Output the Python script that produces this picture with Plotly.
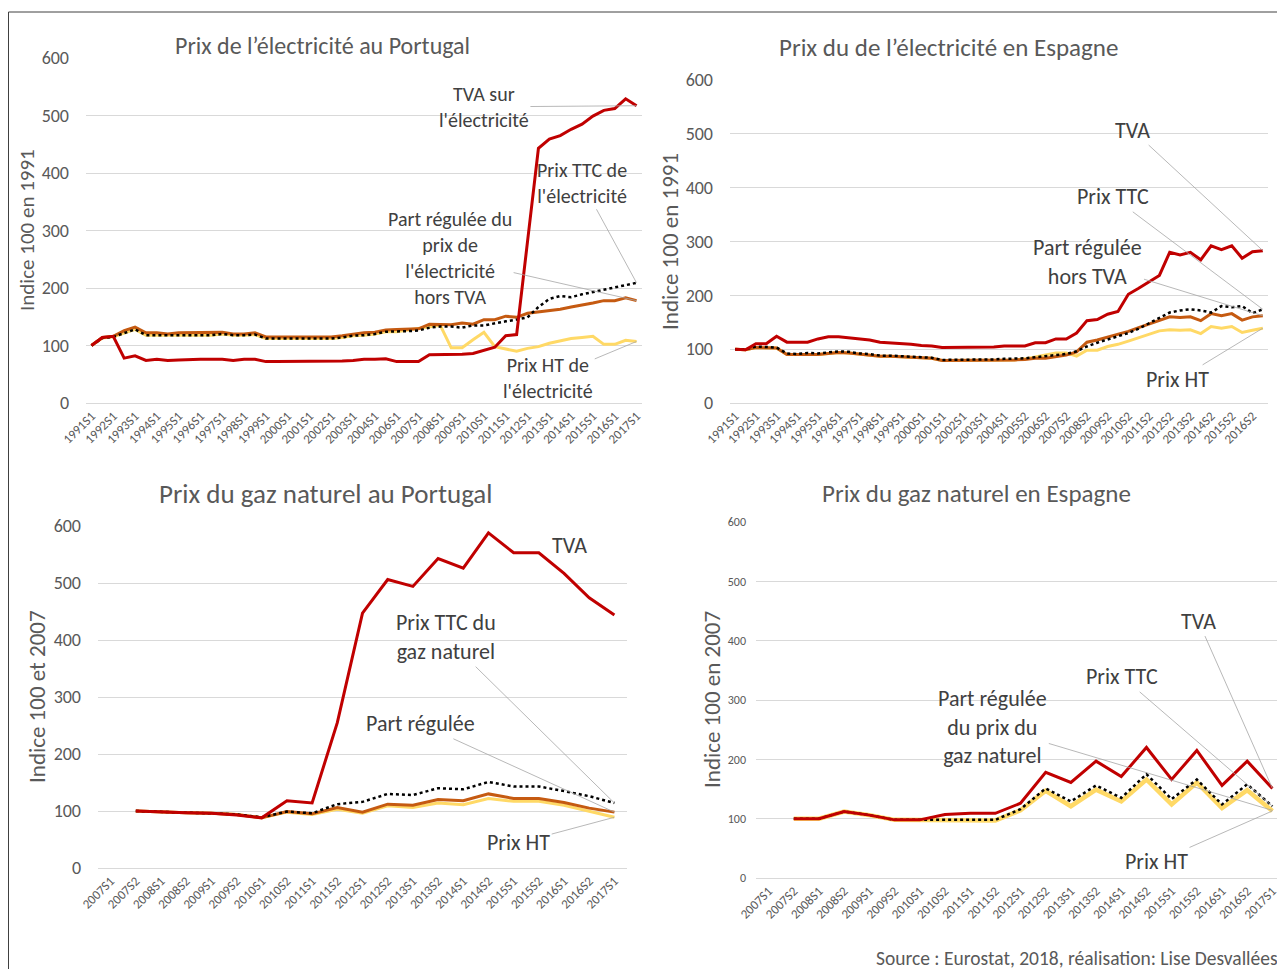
import plotly.graph_objects as go

OFF = 8  # page body margin
W, H = 1285 - OFF, 969 - OFF
FONT = "Carlito, Lato, sans-serif"
GRID = "#D9D9D9"
TXT = "#595959"
LBL = "#404040"
RED = "#C00000"
ORANGE = "#C55A11"
YELLOW = "#FFD966"
BLACK = "#000000"

# ---------------- Data ----------------
# Portugal electricity (semesters, 2005 missing)
pt_elec_cats = [
    "1991S1", "1991S2", "1992S1", "1992S2", "1993S1", "1993S2", "1994S1", "1994S2",
    "1995S1", "1995S2", "1996S1", "1996S2", "1997S1", "1997S2", "1998S1", "1998S2",
    "1999S1", "1999S2", "2000S1", "2000S2", "2001S1", "2001S2", "2002S1", "2002S2",
    "2003S1", "2003S2", "2004S1", "2004S2", "2006S1", "2006S2", "2007S1", "2007S2",
    "2008S1", "2008S2", "2009S1", "2009S2", "2010S1", "2010S2", "2011S1", "2011S2",
    "2012S1", "2012S2", "2013S1", "2013S2", "2014S1", "2014S2", "2015S1", "2015S2",
    "2016S1", "2016S2", "2017S1"]
pt_elec_tva = [100, 114, 116, 78, 82, 74, 76, 74, 75, 76, 76, 76, 76, 74, 76, 76, 72, 72, 72, 72,
               72, 72, 72, 73, 74, 76, 76, 77, 72, 72, 72, 84, 84, 84, 85, 86, 91, 97, 117, 119,
               281, 443, 459, 465, 476, 485, 499, 509, 512, 529, 517]
pt_elec_ttc = [100, 113, 115, 122, 128, 118, 118, 117, 118, 118, 118, 118, 120, 118, 118, 119, 112, 112, 112, 112,
               112, 112, 112, 114, 117, 118, 120, 124, 124, 125, 126, 131, 133, 133, 131, 135, 135, 139, 142, 145,
               149, 167, 181, 186, 184, 189, 193, 197, 201, 204, 209]
pt_elec_reg = [100, 114, 116, 126, 132, 122, 122, 120, 122, 122, 122, 122, 123, 120, 120, 122, 115, 115, 115, 115,
               115, 115, 115, 117, 120, 122, 123, 127, 128, 129, 129, 137, 137, 136, 139, 137, 145, 145, 151, 149,
               156, 158, 161, 163, 167, 170, 174, 178, 178, 183, 178]
pt_elec_ht = [100, 113, 115, 122, 128, 118, 118, 117, 118, 118, 118, 118, 120, 118, 118, 119, 112, 112, 112, 112,
              112, 112, 112, 114, 117, 118, 120, 124, 124, 127, 130, 133, 135, 96, 96, 110, 123, 98, 94, 90,
              95, 98, 104, 108, 112, 114, 116, 102, 102, 109, 107]

# Spain electricity (semesters, 2005S1 missing)
es_elec_cats = [
    "1991S1", "1991S2", "1992S1", "1992S2", "1993S1", "1993S2", "1994S1", "1994S2",
    "1995S1", "1995S2", "1996S1", "1996S2", "1997S1", "1997S2", "1998S1", "1998S2",
    "1999S1", "1999S2", "2000S1", "2000S2", "2001S1", "2001S2", "2002S1", "2002S2",
    "2003S1", "2003S2", "2004S1", "2004S2", "2005S2", "2006S1", "2006S2", "2007S1",
    "2007S2", "2008S1", "2008S2", "2009S1", "2009S2", "2010S1", "2010S2", "2011S1",
    "2011S2", "2012S1", "2012S2", "2013S1", "2013S2", "2014S1", "2014S2", "2015S1",
    "2015S2", "2016S1", "2016S2", "2017S1"]
es_elec_tva = [100, 99, 110, 110, 124, 113, 113, 113, 119, 123, 123, 121, 119, 117, 113, 112, 110, 109, 107, 106,
               103, 103, 103, 103, 104, 104, 106, 106, 106, 112, 112, 119, 119, 130, 153, 155, 165, 170, 202, 213,
               225, 237, 280, 275, 280, 266, 292, 285, 292, 269, 281, 283]
es_elec_ttc = [100, 100, 105, 104, 103, 92, 91, 93, 92, 94, 96, 95, 92, 91, 88, 88, 87, 85, 84, 84,
               80, 80, 80, 80, 81, 81, 82, 82, 83, 85, 87, 89, 91, 96, 105, 112, 118, 123, 130, 138,
               148, 158, 168, 172, 174, 172, 168, 180, 178, 180, 167, 174]
es_elec_reg = [100, 99, 103, 102, 102, 90, 90, 91, 90, 92, 94, 93, 91, 89, 87, 87, 86, 84, 83, 83,
               79, 79, 79, 79, 79, 79, 80, 80, 81, 83, 83, 86, 89, 95, 113, 117, 122, 127, 133, 140,
               147, 154, 160, 159, 160, 153, 166, 162, 166, 154, 160, 162]
es_elec_ht = [100, 99, 103, 102, 102, 90, 90, 91, 90, 92, 94, 93, 91, 89, 87, 87, 86, 84, 83, 83,
              79, 79, 79, 79, 79, 79, 80, 80, 82, 86, 90, 93, 93, 87, 98, 98, 105, 109, 115, 121,
              128, 134, 136, 135, 136, 129, 142, 139, 142, 131, 135, 139]

# Gas (semesters 2007S1 - 2017S1)
gas_cats = ["2007S1", "2007S2", "2008S1", "2008S2", "2009S1", "2009S2", "2010S1", "2010S2",
            "2011S1", "2011S2", "2012S1", "2012S2", "2013S1", "2013S2", "2014S1", "2014S2",
            "2015S1", "2015S2", "2016S1", "2016S2", "2017S1"]
pt_gas_tva = [None, 100, 98, 97, 96, 93, 88, 118, 114, 255, 447, 506, 494, 543, 526, 588, 553, 553, 517, 474, 444]
pt_gas_ttc = [None, 100, 98, 97, 96, 94, 89, 99, 96, 112, 116, 130, 128, 140, 138, 151, 143, 143, 135, 126, 114]
pt_gas_reg = [None, 100, 98, 97, 96, 94, 88, 99, 95, 106, 98, 112, 110, 120, 118, 130, 122, 122, 115, 105, 98]
pt_gas_ht = [None, 100, 98, 97, 96, 94, 88, 98, 94, 103, 96, 109, 106, 114, 111, 122, 117, 117, 110, 99, 89]

es_gas_tva = [None, 100, 100, 112, 106, 98, 98, 107, 109, 109, 126, 178, 161, 197, 171, 220, 166, 215, 156, 197, 151]
es_gas_ttc = [None, 100, 100, 112, 106, 98, 98, 98, 98, 98, 116, 151, 129, 156, 135, 175, 133, 166, 124, 158, 121]
es_gas_reg = [None, 100, 100, 112, 106, 98, 98, 97, 97, 97, 114, 147, 121, 149, 129, 166, 124, 161, 118, 148, 114]
es_gas_ht = [None, 100, 100, 112, 106, 98, 98, 97, 97, 97, 114, 147, 121, 149, 129, 166, 124, 161, 118, 148, 113]

# ---------------- Layout helpers ----------------
def px_x(p):
    return (p - OFF) / W


def px_y(p):
    return 1 - (p - OFF) / H


panels = {
    # name: (x-left px, x-right px, y-top px, y-bottom px) in window pixels
    "1": (86, 642, 58, 403),
    "2": (730, 1268, 80, 403),
    "3": (98, 627, 526, 868),
    "4": (756, 1285, 522, 878),
}

fig = go.Figure()


def add_line(n, cats, vals, color, width, dash="solid"):
    fig.add_trace(go.Scatter(
        x=cats, y=vals, mode="lines",
        line=dict(color=color, width=width, dash=dash),
        xaxis="x" + ("" if n == "1" else n), yaxis="y" + ("" if n == "1" else n),
        showlegend=False, hoverinfo="skip", connectgaps=False))


for n, cats, ht, reg, ttc, tva in [
    ("1", pt_elec_cats, pt_elec_ht, pt_elec_reg, pt_elec_ttc, pt_elec_tva),
    ("2", es_elec_cats, es_elec_ht, es_elec_reg, es_elec_ttc, es_elec_tva),
    ("3", gas_cats, pt_gas_ht, pt_gas_reg, pt_gas_ttc, pt_gas_tva),
]:
    add_line(n, cats, ht, YELLOW, 3)
    add_line(n, cats, reg, ORANGE, 3)
    add_line(n, cats, ttc, BLACK, 2.5, "dot")
    add_line(n, cats, tva, RED, 3)

add_line("4", gas_cats, es_gas_reg, ORANGE, 2)
add_line("4", gas_cats, es_gas_ht, YELLOW, 4.5)
add_line("4", gas_cats, es_gas_ttc, BLACK, 2.5, "dot")
add_line("4", gas_cats, es_gas_tva, RED, 3)

layout = dict(
    width=W, height=H,
    margin=dict(l=0, r=0, t=0, b=0),
    paper_bgcolor="white", plot_bgcolor="white",
    font=dict(family=FONT, color=TXT),
    showlegend=False,
)

cat_map = {"1": pt_elec_cats, "2": es_elec_cats, "3": gas_cats, "4": gas_cats}
ytick_size = {"1": 18, "2": 18, "3": 18, "4": 12}
ystand = {"1": 16, "2": 16, "3": 16, "4": 9}
for n, (xl, xr, yt, yb) in panels.items():
    cats = cat_map[n]
    step = 2 if n in ("1", "2") else 1
    xk = "xaxis" + ("" if n == "1" else n)
    yk = "yaxis" + ("" if n == "1" else n)
    layout[xk] = dict(
        domain=[px_x(xl), min(1.0, px_x(xr))],
        anchor="y" + ("" if n == "1" else n),
        type="category", categoryorder="array", categoryarray=cats,
        range=[-0.5, len(cats) - 0.5],
        tickmode="array", tickvals=cats[::step], ticktext=cats[::step],
        tickangle=-45, tickfont=dict(size=13, color=TXT, family=FONT),
        ticklabelstandoff=2,
        showgrid=False, zeroline=False, showline=False, ticks="",
        automargin=False, fixedrange=True,
    )
    layout[yk] = dict(
        domain=[px_y(yb), px_y(yt)],
        anchor="x" + ("" if n == "1" else n),
        range=[0, 600], dtick=100, tick0=0,
        showgrid=True, gridcolor=GRID, gridwidth=1,
        zeroline=True, zerolinecolor=GRID, zerolinewidth=1,
        showline=False, ticks="",
        tickfont=dict(size=ytick_size[n], color=TXT, family=FONT),
        ticklabelstandoff=ystand[n],
        automargin=False, fixedrange=True,
    )

annotations = []

# Titles
for text, cx, cy, size in [
    ("Prix de l’électricité au Portugal", 322, 45, 24),
    ("Prix du de l’électricité en Espagne", 948, 47, 25),
    ("Prix du gaz naturel au Portugal", 325, 493, 27),
    ("Prix du gaz naturel en Espagne", 976, 493, 25),
]:
    annotations.append(dict(text=text, x=px_x(cx), y=px_y(cy), xref="paper", yref="paper",
                            xanchor="center", yanchor="middle", showarrow=False,
                            font=dict(size=size, color=TXT, family=FONT)))

# Y-axis titles
for text, cx, cy, size in [
    ("Indice 100 en 1991", 27, 230, 21),
    ("Indice 100 en 1991", 670, 242, 23),
    ("Indice 100 et 2007", 37, 697, 23),
    ("Indice 100 en 2007", 712, 700, 23),
]:
    annotations.append(dict(text=text, x=px_x(cx), y=px_y(cy), xref="paper", yref="paper",
                            xanchor="center", yanchor="middle", showarrow=False, textangle=-90,
                            font=dict(size=size, color=TXT, family=FONT)))

# Series labels with leader lines: (panel, text, target index, target value, text index, text value, size)
labels = [
    ("1", "TVA sur<br>l'électricité", 50, 517, 36.0, 515, 20),
    ("1", "Prix TTC de<br>l'électricité", 50, 209, 45.0, 383, 20),
    ("1", "Part régulée du<br>prix de<br>l'électricité<br>hors TVA", 50, 178, 32.9, 252, 20),
    ("1", "Prix HT de<br>l'électricité", 50, 107, 41.9, 43, 20),
    ("2", "TVA", 51, 283, 38.4, 507, 22),
    ("2", "Prix TTC", 51, 174, 36.5, 383, 22),
    ("2", "Part régulée<br>hors TVA", 51, 162, 34.1, 262, 22),
    ("2", "Prix HT", 51, 139, 42.8, 43, 22),
    ("3", "Prix TTC du<br>gaz naturel", 20, 114, 13.3, 405, 22),
    ("3", "Part régulée", 20, 98, 12.3, 253, 22),
    ("3", "Prix HT", 20, 89, 16.2, 44, 22),
    ("4", "TVA", 20, 151, 17.06, 433, 22),
    ("4", "Prix TTC", 20, 121, 14.04, 339, 22),
    ("4", "Part régulée<br>du prix du<br>gaz naturel", 20, 114, 8.9, 255, 22),
    ("4", "Prix HT", 20, 113, 15.4, 27, 22),
]
for n, text, tx, tv, lx, lv, size in labels:
    xr = "x" + ("" if n == "1" else n)
    yr = "y" + ("" if n == "1" else n)
    annotations.append(dict(
        text=text, x=tx, y=tv, xref=xr, yref=yr,
        ax=lx, ay=lv, axref=xr, ayref=yr,
        showarrow=True, arrowhead=0, arrowwidth=0.8, arrowcolor="#A6A6A6",
        standoff=0, startstandoff=0,
        font=dict(size=size, color=LBL, family=FONT), align="center"))

annotations.append(dict(text="TVA", x=18.2, y=565, xref="x3", yref="y3", showarrow=False,
                        font=dict(size=22, color=LBL, family=FONT)))

annotations.append(dict(text="Source : Eurostat, 2018, réalisation: Lise Desvallées",
                        x=px_x(1280), y=px_y(958), xref="paper", yref="paper",
                        xanchor="right", yanchor="middle", showarrow=False,
                        font=dict(size=19.5, color=TXT, family=FONT)))

layout["annotations"] = annotations
layout["shapes"] = [dict(type="rect", xref="paper", yref="paper",
                         x0=0.5 / W, x1=1.05, y0=-0.05, y1=px_y(12),
                         line=dict(color="#404040", width=1))]

fig.update_layout(**layout)
fig.write_html("out.html")
